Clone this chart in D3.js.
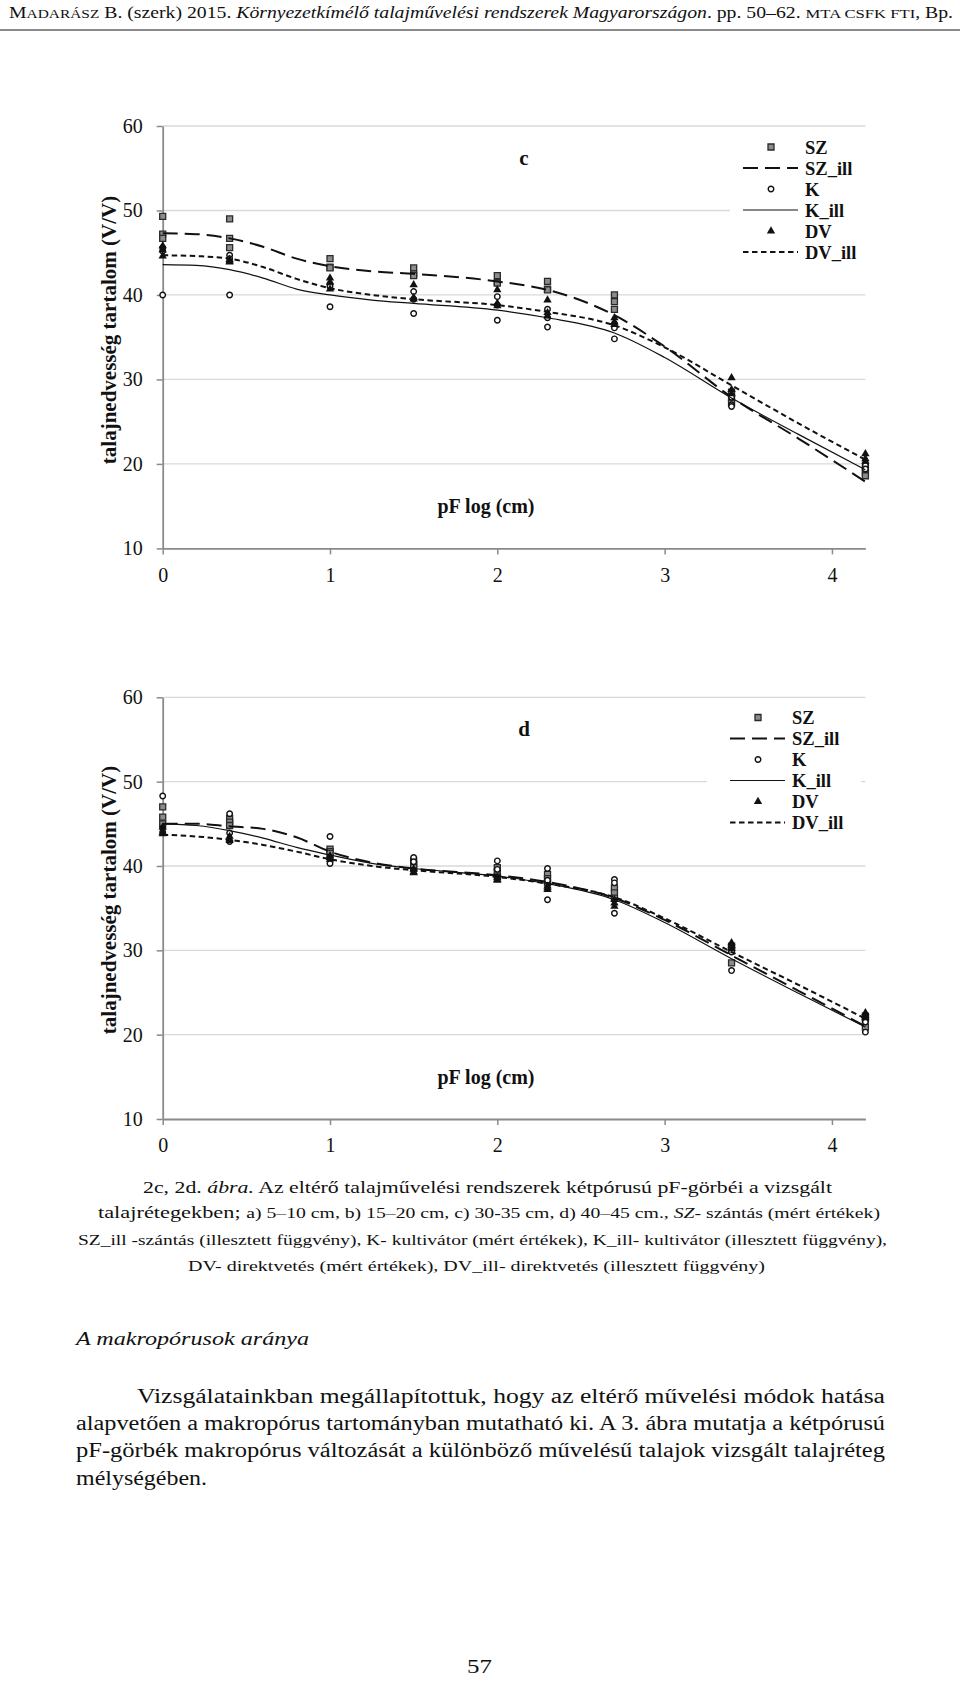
<!DOCTYPE html>
<html><head><meta charset="utf-8">
<script src="https://cdn.jsdelivr.net/npm/d3@7"></script>
<style>body{margin:0;background:#fff} text{font-family:"Liberation Serif","Times New Roman",serif;fill:#111}</style>
</head><body>
<svg id="page" width="960" height="1684"></svg>
<script>
// ---------- data ----------
const pF = [0, 0.4, 1.0, 1.5, 2.0, 2.3, 2.7, 3.4, 4.2];
const fitPF = [0, 0.2, 0.4, 0.6, 0.8, 1.0, 1.25, 1.5, 2.0, 2.3, 2.7, 3.0, 3.4, 3.8, 4.2];
const yTicks = [10, 20, 30, 40, 50, 60];
const xTicks = [0, 1, 2, 3, 4];
const legendNames = ["SZ", "SZ_ill", "K", "K_ill", "DV", "DV_ill"];

// chart c (30-35 cm) measured values, three replicates per pF
const SZ_c = [[49.3,47.2,46.7],[49.0,46.7,45.6],[44.3,43.3,43.2],[43.2,42.5,42.3],[42.3,41.5,41.4],[41.6,40.7,40.6],[40.0,39.2,38.3],[28.5,27.8,27.2],[19.5,19.0,18.6]];
const K_c  = [[40.0,45.6,45.2],[44.7,44.3,40.0],[38.6,41.3,41.0],[40.4,39.5,37.8],[39.8,38.8,37.0],[38.3,37.3,36.2],[36.6,36.1,34.8],[27.9,27.0,26.8],[20.0,19.8,19.4]];
const DV_c = [[45.8,45.3,44.6],[44.2,44.0,43.9],[42.0,41.5,40.7],[41.2,39.7,39.5],[40.6,39.0,38.7],[39.4,37.9,37.5],[37.3,36.8,36.5],[30.2,28.8,28.3],[21.2,20.6,20.3]];
// chart c fitted curves (values at fitPF)
const SZ_ill_c = [47.3,47.2,46.7,45.7,44.3,43.4,42.8,42.5,41.6,40.6,37.6,33.9,27.9,23.0,17.9];
const K_ill_c  = [43.6,43.5,43.0,42.0,40.7,40.0,39.4,39.0,38.2,37.3,35.5,32.6,27.8,23.5,19.3];
const DV_ill_c = [44.7,44.6,44.3,43.3,41.9,40.8,40.0,39.5,38.8,38.0,36.4,33.8,29.3,24.8,20.5];

// chart d (40-45 cm) measured values
const SZ_d = [[47.0,45.8,45.0],[45.6,45.2,44.8],[42.0,41.7,41.5],[40.6,40.2,39.8],[39.8,39.3,38.8],[39.0,38.5,38.0],[37.4,36.8,36.2],[30.5,30.0,28.5],[22.2,21.8,20.9]];
const K_d  = [[48.3,44.5,44.0],[46.2,43.9,42.9],[43.5,41.0,40.3],[41.0,40.5,39.5],[40.6,39.6,38.6],[39.7,38.3,36.0],[38.4,38.0,34.4],[30.3,29.8,27.6],[22.1,21.5,20.3]];
const DV_d = [[44.6,44.0,43.8],[43.5,43.2,43.0],[41.2,41.0,40.8],[39.6,39.3,39.2],[38.6,38.3,38.4],[37.6,37.2,37.4],[36.0,35.2,35.6],[30.9,30.6,30.2],[22.6,22.3,22.0]];
// chart d fitted curves
const SZ_ill_d = [45.0,45.0,44.7,44.4,43.4,41.7,40.4,39.7,38.9,38.1,36.2,33.6,29.4,25.2,21.0];
const K_ill_d  = [45.0,44.8,44.2,43.3,42.2,41.3,40.3,39.7,38.8,37.9,36.0,33.3,29.0,24.9,20.9];
const DV_ill_d = [43.7,43.5,43.1,42.5,41.7,40.8,40.0,39.5,38.7,37.9,36.3,33.8,29.8,25.9,21.9];

// ---------- drawing ----------
const svg = d3.select("#page");
svg.append("rect").attr("width",960).attr("height",1684).attr("fill","#fff");

// running header
const hdr = svg.append("text").attr("x",9).attr("y",18).attr("font-size",16)
  .attr("textLength",944).attr("lengthAdjust","spacingAndGlyphs");
hdr.append("tspan").text("M");
hdr.append("tspan").attr("font-size",12.5).text("ADARÁSZ");
hdr.append("tspan").text(" B. (szerk) 2015. ");
hdr.append("tspan").attr("font-style","italic").text("Környezetkímélő talajművelési rendszerek Magyarországon");
hdr.append("tspan").text(". pp. 50–62. ");
hdr.append("tspan").attr("font-size",13.5).text("MTA CSFK FTI");
hdr.append("tspan").text(", Bp.");
svg.append("line").attr("x1",0).attr("x2",960).attr("y1",30).attr("y2",30)
  .attr("stroke","#8a8a8a").attr("stroke-width",2);

const styles = {
  SZ_ill: {dash:"15,7", width:2},
  K_ill: {dash:null, width:1.2},
  DV_ill: {dash:"5.5,3.5", width:2}
};
const sym = {
  SZ: d3.symbol(d3.symbolSquare, 36),
  K: d3.symbol(d3.symbolCircle, 24),
  DV: d3.symbol(d3.symbolTriangle, 30)
};
function styleMarker(sel, name){
  sel.attr("d", sym[name]());
  if(name==="SZ") sel.attr("fill","#8c8c8c").attr("stroke","#2a2a2a").attr("stroke-width",1.3);
  else if(name==="K") sel.attr("fill","#fff").attr("stroke","#111").attr("stroke-width",1.4);
  else sel.attr("fill","#111").attr("stroke","none");
}

function drawChart(cfg){
  const x = d3.scaleLinear().domain([0,4.2]).range([162.7, 865.4]);
  const y = d3.scaleLinear().domain([10,60]).range([cfg.bottom, cfg.top]);
  const g = svg.append("g");

  // gridlines
  g.selectAll("line.grid").data(yTicks.filter(v=>v>10)).join("line")
    .attr("x1",x(0)).attr("x2",x(4.2)).attr("y1",d=>y(d)).attr("y2",d=>y(d))
    .attr("stroke","#d9d9d9").attr("stroke-width",1.3);

  // legend background hides gridline
  g.append("rect").attr("x",cfg.legBoxX).attr("y",cfg.top+7).attr("width",cfg.legBoxW).attr("height",150).attr("fill","#fff");

  // axes
  const ya = g.append("g").attr("transform",`translate(${x(0)},0)`)
    .call(d3.axisLeft(y).tickValues(yTicks).tickSize(6).tickSizeOuter(0).tickPadding(14).tickFormat(d3.format("d")));
  const xa = g.append("g").attr("transform",`translate(0,${y(10)})`)
    .call(d3.axisBottom(x).tickValues(xTicks).tickSize(6).tickSizeOuter(0).tickPadding(13).tickFormat(d3.format("d")));
  [ya,xa].forEach(a=>{
    a.select(".domain").attr("stroke","#8a8a8a").attr("stroke-width",1.8);
    a.selectAll(".tick line").attr("stroke","#8a8a8a").attr("stroke-width",1.5);
    a.selectAll(".tick text").attr("font-size",20).attr("font-family","Liberation Serif").attr("fill","#111");
  });

  // axis titles and panel letter
  g.append("text").attr("transform",`translate(116,${cfg.titleY}) rotate(-90)`)
    .attr("text-anchor","middle").attr("font-weight","bold").attr("font-size",21)
    .text("talajnedvesség tartalom (V/V)");
  g.append("text").attr("x",486).attr("y",y(10)-35).attr("text-anchor","middle")
    .attr("font-weight","bold").attr("font-size",20).text("pF log (cm)");
  g.append("text").attr("x",524).attr("y",cfg.top+39).attr("text-anchor","middle")
    .attr("font-weight","bold").attr("font-size",21).text(cfg.letter);

  // measured points and fitted curves
  const pts = (arr,name)=>arr.flatMap((vals,i)=>vals.map(v=>({x:pF[i],y:v,name})));
  const meas = [["SZ",cfg.SZ],["K",cfg.K],["DV",cfg.DV]];
  const line = d3.line().x((d,i)=>x(fitPF[i])).y(d=>y(d)).curve(d3.curveMonotoneX);
  const fits = [["SZ_ill",cfg.SZ_ill],["K_ill",cfg.K_ill],["DV_ill",cfg.DV_ill]];
  meas.forEach(([name,arr],k)=>{
    g.append("g").selectAll("path").data(pts(arr,name)).join("path")
      .attr("transform",d=>`translate(${x(d.x)},${y(d.y)})`)
      .call(s=>styleMarker(s,name));
    const [fn,fv] = fits[k];
    g.append("path").datum(fv).attr("d",line).attr("fill","none")
      .attr("stroke","#111").attr("stroke-width",styles[fn].width)
      .attr("stroke-dasharray",styles[fn].dash);
  });

  // legend
  const lg = g.append("g");
  legendNames.forEach((nm,i)=>{
    const ry = cfg.legY + i*21;
    if(sym[nm]){
      lg.append("path").attr("transform",`translate(${cfg.legMarkX},${ry})`).call(s=>styleMarker(s,nm));
    } else {
      lg.append("line").attr("x1",cfg.legMarkX-28).attr("x2",cfg.legMarkX+27).attr("y1",ry).attr("y2",ry)
        .attr("stroke","#111").attr("stroke-width",styles[nm].width).attr("stroke-dasharray",styles[nm].dash);
    }
    lg.append("text").attr("x",cfg.legTextX).attr("y",ry+6.5).attr("font-weight","bold").attr("font-size",18.5).text(nm);
  });
}

drawChart({top:126, bottom:548.4, letter:"c", titleY:330, legBoxX:730, legBoxW:136, legY:147, legMarkX:771, legTextX:805,
  SZ:SZ_c, K:K_c, DV:DV_c, SZ_ill:SZ_ill_c, K_ill:K_ill_c, DV_ill:DV_ill_c});
drawChart({top:697.3, bottom:1119, letter:"d", titleY:900, legBoxX:707, legBoxW:154, legY:717.5, legMarkX:758, legTextX:792,
  SZ:SZ_d, K:K_d, DV:DV_d, SZ_ill:SZ_ill_d, K_ill:K_ill_d, DV_ill:DV_ill_d});

// ---------- caption ----------
function capLine(y, x0, w, parts){
  const t = svg.append("text").attr("x",x0).attr("y",y).attr("textLength",w).attr("lengthAdjust","spacingAndGlyphs");
  parts.forEach(p=>{
    const s = t.append("tspan").attr("font-size",p.size).text(p.t);
    if(p.it) s.attr("font-style","italic");
  });
}
capLine(1193,143,689,[{t:"2c, 2d. ",size:17},{t:"ábra.",size:17,it:true},{t:" Az eltérő talajművelési rendszerek kétpórusú pF-görbéi a vizsgált",size:17}]);
capLine(1218,98,782,[{t:"talajrétegekben; ",size:17},{t:"a) 5–10 cm, b) 15–20 cm, c) 30-35 cm, d) 40–45 cm., ",size:15},{t:"SZ",size:15,it:true},{t:"- szántás (mért értékek)",size:15}]);
capLine(1245,78,809,[{t:"SZ_ill -szántás (illesztett függvény), K- kultivátor (mért értékek), K_ill- kultivátor (illesztett függvény),",size:15.5}]);
capLine(1271,188,577,[{t:"DV- direktvetés (mért értékek), DV_ill- direktvetés (illesztett függvény)",size:15.5}]);

// ---------- body text ----------
svg.append("text").attr("x",76).attr("y",1345).attr("font-size",19.5).attr("font-style","italic")
  .attr("textLength",233).attr("lengthAdjust","spacingAndGlyphs").text("A makropórusok aránya");
const body = [
  {x:137, w:748, t:"Vizsgálatainkban megállapítottuk, hogy az eltérő művelési módok hatása"},
  {x:76, w:809, t:"alapvetően a makropórus tartományban mutatható ki. A 3. ábra mutatja a kétpórusú"},
  {x:76, w:809, t:"pF-görbék makropórus változását a különböző művelésű talajok vizsgált talajréteg"},
  {x:76, w:131, t:"mélységében."}
];
body.forEach((b,i)=>{
  svg.append("text").attr("x",b.x).attr("y",1403+i*27.2).attr("font-size",20)
    .attr("textLength",b.w).attr("lengthAdjust","spacingAndGlyphs").text(b.t);
});
svg.append("text").attr("x",467).attr("y",1673).attr("font-size",19.5)
  .attr("textLength",25).attr("lengthAdjust","spacingAndGlyphs").text("57");
</script>
</body></html>
